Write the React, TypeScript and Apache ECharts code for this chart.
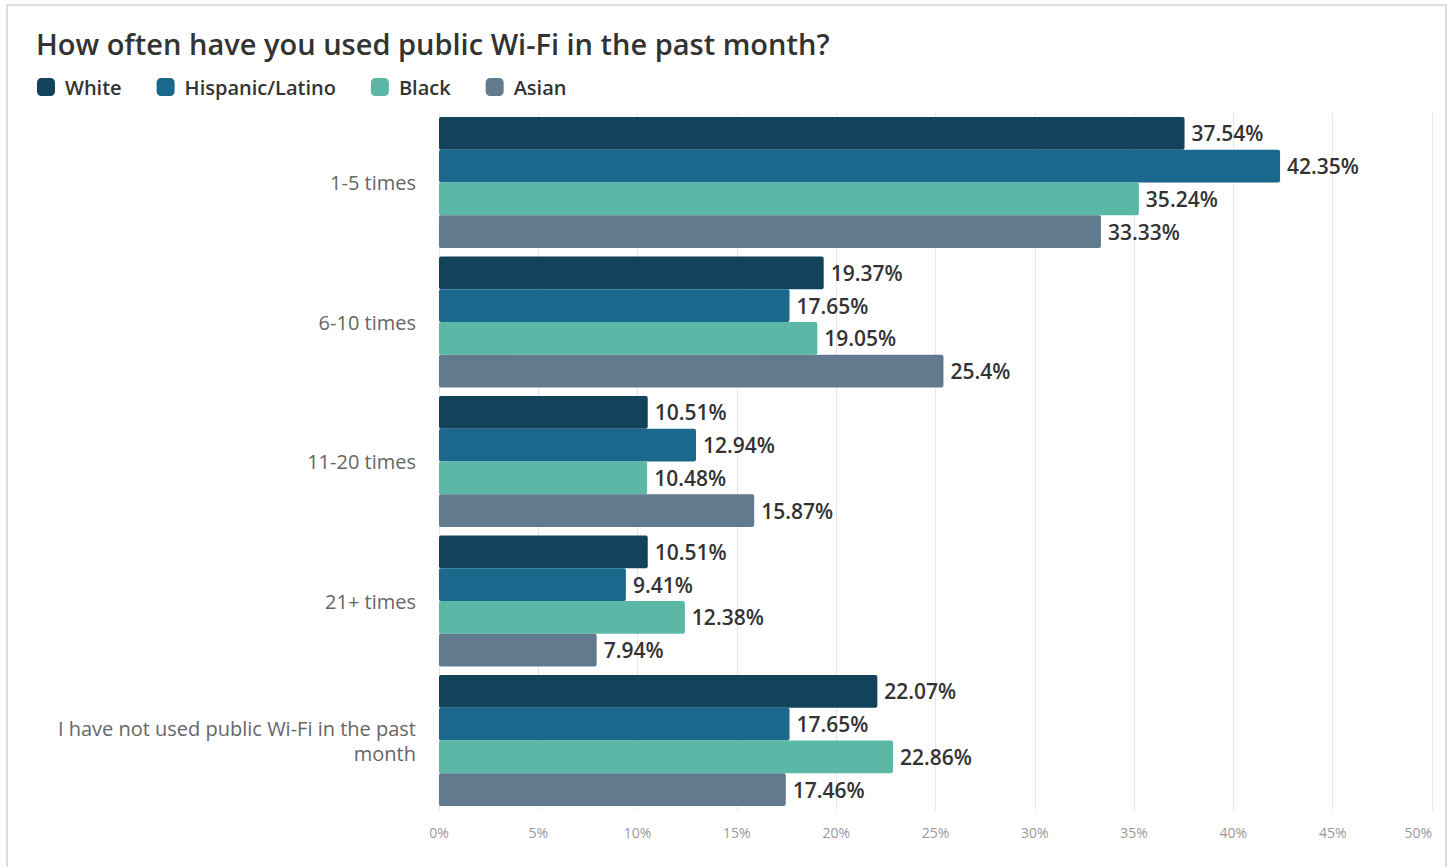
import React, { useEffect, useRef } from "react";
import * as echarts from "echarts";

const categories = [
  "1-5 times",
  "6-10 times",
  "11-20 times",
  "21+ times",
  "I have not used public Wi-Fi in the past\nmonth",
];
const seriesNames = ["White", "Hispanic/Latino", "Black", "Asian"];
const white = [37.54, 19.37, 10.51, 10.51, 22.07];
const hispanic = [42.35, 17.65, 12.94, 9.41, 17.65];
const black = [35.24, 19.05, 10.48, 12.38, 22.86];
const asian = [33.33, 25.4, 15.87, 7.94, 17.46];
const colors = ["#12435a", "#1a698c", "#5bb8a6", "#627a8d"];

const FONT = "'Open Sans', Lato, sans-serif";

export default function App() {
  const ref = useRef<HTMLDivElement>(null);
  useEffect(() => {
    if (!ref.current) return;
    const chart = echarts.init(ref.current, undefined, { renderer: "svg" });
    const data = [white, hispanic, black, asian];
    chart.setOption({
      animation: false,
      backgroundColor: "#ffffff",
      textStyle: { fontFamily: FONT },
      title: {
        text: "How often have you used public Wi-Fi in the past month?",
        left: 31,
        top: 24,
        textStyle: { fontSize: 29, fontWeight: 600, color: "#333333", fontFamily: FONT },
      },
      legend: {
        left: 32,
        top: 72,
        itemWidth: 18,
        itemHeight: 18,
        itemGap: 35,
        icon: "roundRect",
        textStyle: { fontSize: 20, fontWeight: 600, color: "#333333", fontFamily: FONT, padding: [0, 0, 0, 5] },
        data: seriesNames,
      },
      graphic: [
        {
          type: "rect",
          shape: { x: 7, y: 5, width: 1439, height: 900 },
          style: { fill: "none", stroke: "#dddddd", lineWidth: 2 },
          silent: true,
        },
      ],
      grid: { left: 439, right: 21, top: 112.75, bottom: 56.75, containLabel: false },
      xAxis: {
        type: "value",
        min: 0,
        max: 50,
        interval: 5,
        axisLine: { show: false },
        axisTick: { show: false },
        axisLabel: {
          formatter: "{value}%",
          fontSize: 14,
          color: "#999999",
          margin: 15,
          alignMaxLabel: "right",
          fontFamily: FONT,
        },
        splitLine: { lineStyle: { color: "#e6e6e6", width: 1 } },
      },
      yAxis: {
        type: "category",
        inverse: true,
        data: categories,
        axisLine: { show: false },
        axisTick: { show: false },
        axisLabel: {
          fontSize: 20,
          color: "#666666",
          margin: 23,
          lineHeight: 25,
          align: "right",
          fontFamily: FONT,
        },
      },
      series: seriesNames.map((name, i) => ({
        name,
        type: "bar",
        data: data[i],
        barGap: "0%",
        barCategoryGap: "6%",
        itemStyle: { color: colors[i], borderRadius: 2 },
        label: {
          show: true,
          position: "right",
          distance: 7,
          formatter: "{c}%",
          fontSize: 21,
          fontWeight: 600,
          color: "#333333",
          fontFamily: FONT,
        },
      })),
    });
    return () => chart.dispose();
  }, []);
  return (
    <div
      ref={ref}
      style={{ position: "fixed", left: 0, top: 0, width: 1453, height: 867 }}
    />
  );
}
